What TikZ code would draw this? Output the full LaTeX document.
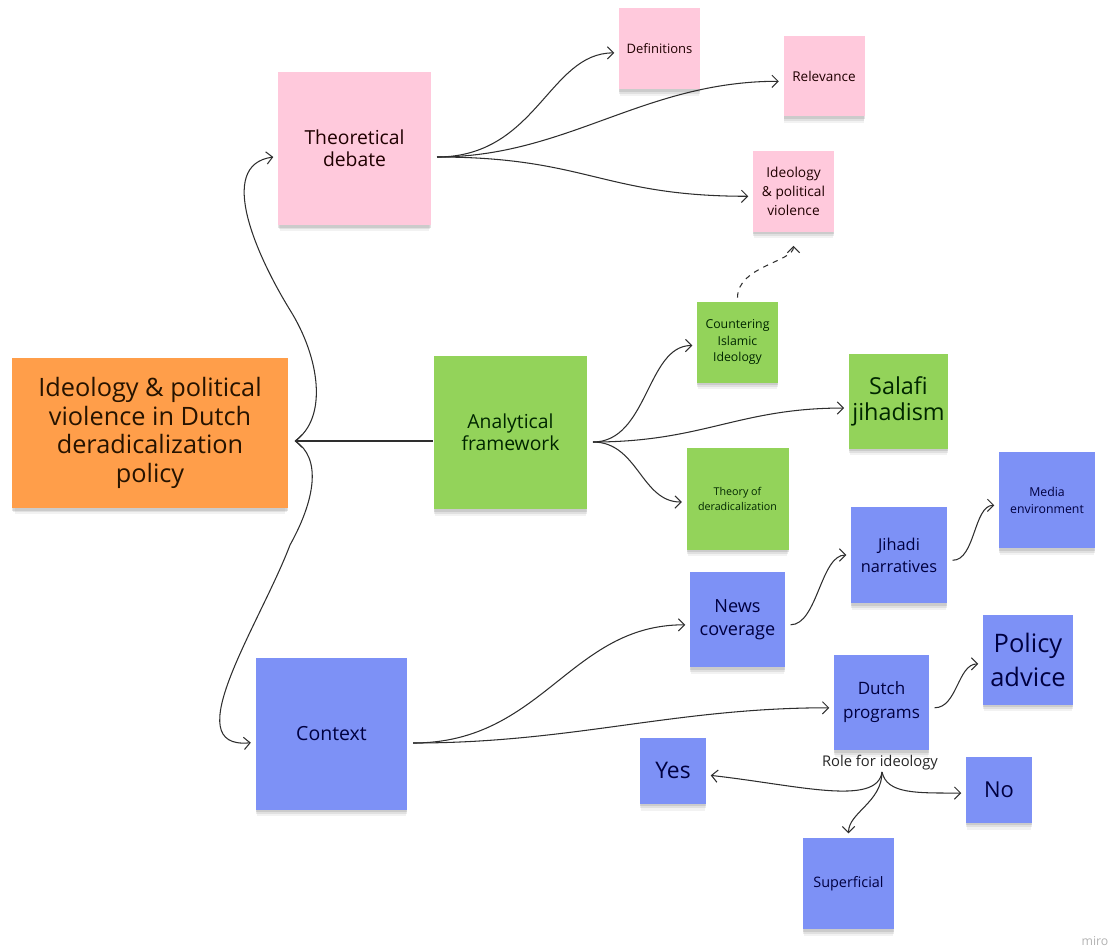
\documentclass[tikz,border=0pt]{standalone}
\usepackage{fontspec}
\setmainfont{Open Sans}
\usetikzlibrary{arrows.meta, shadows}

\definecolor{notepink}{HTML}{FFC9DC}
\definecolor{notegreen}{HTML}{93D35A}
\definecolor{noteblue}{HTML}{7D91F6}
\definecolor{noteorange}{HTML}{FF9E4A}
\definecolor{inkline}{HTML}{2E2E2E}

\begin{document}
\begin{tikzpicture}[
  x=0.02cm, y=-0.02cm,
  note/.style={rectangle, inner sep=2pt, align=center,
    drop shadow={shadow xshift=0pt, shadow yshift=-1.5pt, opacity=0.22},
    drop shadow={shadow xshift=0pt, shadow yshift=-3pt, shadow scale=0.99, opacity=0.16},
    drop shadow={shadow xshift=0pt, shadow yshift=-4.5pt, shadow scale=0.98, opacity=0.10}},
  pinknote/.style={note, fill=notepink, text=black!80!red!60!black},
  greennote/.style={note, fill=notegreen, text=black!75!green!60!black},
  bluenote/.style={note, fill=noteblue, text=blue!25!black},
  orangenote/.style={note, fill=noteorange, text=black!85!orange},
  arr/.style={-{Straight Barb[length=3.5pt, width=7pt]}, line width=0.6pt, inkline, shorten >=2.5pt},
  >=Stealth
]
\useasboundingbox (0,0) rectangle (1115,951);

% Main topic
\node[orangenote, minimum width=5.52cm, minimum height=3cm,
  font=\fontsize{14.4}{16.4}\selectfont] (main) at (150,433)
  {Ideology \& political\\violence in Dutch\\deradicalization\\policy};

% Theoretical debate branch
\node[pinknote, minimum size=3.06cm, font=\fontsize{11}{12.5}\selectfont] (theo) at (354.5,148.5) {Theoretical\\debate};
\node[pinknote, minimum size=1.62cm, font=\fontsize{7.4}{9.6}\selectfont] (defs) at (659.5,48.5) {Definitions};
\node[pinknote, minimum size=1.62cm, font=\fontsize{7.7}{9.6}\selectfont] (relev) at (824,76) {Relevance};
\node[pinknote, minimum size=1.62cm, font=\fontsize{7.8}{10.8}\selectfont] (ipv) at (793.5,191) {Ideology\\\& political\\violence};

% Analytical framework branch
\node[greennote, minimum size=3.08cm, font=\fontsize{11}{12.5}\selectfont] (anal) at (510.5,432.5) {Analytical\\framework};
\node[greennote, minimum size=1.62cm, font=\fontsize{7}{9.6}\selectfont] (counter) at (737.5,342) {Countering\\Islamic\\Ideology};
\node[greennote, minimum size=1.9cm, font=\fontsize{13.3}{14.7}\selectfont] (salafi) at (898.5,401) {Salafi\\jihadism};
\node[greennote, minimum size=2.04cm, font=\fontsize{6.1}{8.5}\selectfont] (theory) at (737.5,498.5) {Theory of\\deradicalization};

% Context branch
\node[bluenote, minimum size=3.04cm, font=\fontsize{11.1}{13}\selectfont] (context) at (331.5,733.5) {Context};
\node[bluenote, minimum size=1.9cm, font=\fontsize{10.3}{13}\selectfont] (news) at (737.5,619.5) {News\\coverage};
\node[bluenote, minimum size=1.92cm, font=\fontsize{9.3}{12.5}\selectfont] (jihadi) at (899,555) {Jihadi\\narratives};
\node[bluenote, minimum size=1.92cm, font=\fontsize{7}{9.6}\selectfont] (media) at (1047,500) {Media\\environment};
\node[bluenote, minimum size=1.9cm, font=\fontsize{9.7}{13.6}\selectfont] (dutch) at (881.5,702.5) {Dutch\\programs};
\node[bluenote, minimum size=1.8cm, font=\fontsize{14.5}{19.3}\selectfont] (policy) at (1028,659.5) {Policy\\advice};
\node[font=\fontsize{8.4}{10}\selectfont, text=black!85] (role) at (880,763) {Role for ideology};
\node[bluenote, minimum size=1.32cm, font=\fontsize{13}{15}\selectfont] (yes) at (673,770.5) {Yes};
\node[bluenote, minimum size=1.32cm, font=\fontsize{12.5}{15}\selectfont] (no) at (999,789.5) {No};
\node[bluenote, minimum size=1.82cm, font=\fontsize{8.2}{10}\selectfont] (superf) at (848.5,883.5) {Superficial};

% watermark
\node[font=\fontsize{7}{8}\selectfont, text=black!30] (miro) at (1095,941) {miro};

% fork points
\coordinate (hub) at (295,441);
\coordinate (tfork) at (437,157);
\coordinate (afork) at (593,442);
\coordinate (cfork) at (413,743);
\coordinate (rfork) at (882,772);

% Main connectors
\draw[arr, shorten >=0pt] (anal.west |- hub) -- (hub);
\draw[arr] (hub) .. controls (328,418) and (320,358) .. (290,310)
  .. controls (258,258) and (215,165) .. ([yshift=-4.5pt]theo.west);
\draw[arr] (hub) .. controls (322,458) and (315,500) .. (290,545)
  .. controls (260,624) and (175,750) .. ([yshift=-5pt]context.west);

% Theoretical debate
\draw[arr] (tfork) .. controls +(100,0) and +(-70,0) .. ([yshift=-2.5pt]defs.west);
\draw[arr] (tfork) .. controls +(130,0) and +(-140,0) .. ([yshift=-3pt]relev.west);
\draw[arr] (tfork) .. controls +(150,0) and +(-150,0) .. ([yshift=-3pt]ipv.west);

% Analytical framework
\draw[arr] (afork) .. controls +(55,0) and +(-50,0) .. ([yshift=-2pt]counter.west);
\draw[arr] (afork) .. controls +(110,0) and +(-110,0) .. ([yshift=-4pt]salafi.west);
\draw[arr] (afork) .. controls +(45,0) and +(-45,0) .. ([yshift=-2pt]theory.west);
\draw[arr, dashed, shorten <=2pt, shorten >=8pt] (counter.north) .. controls +(0,-35) and +(0,30) .. (ipv.south);

% Context
\draw[arr] (cfork) .. controls +(130,0) and +(-120,0) .. ([yshift=-3pt]news.west);
\draw[arr] (cfork) .. controls +(160,0) and +(-160,0) .. ([yshift=-3pt]dutch.west);
\draw[arr, shorten <=3pt] ([yshift=-3pt]news.east) .. controls +(32,0) and +(-30,0) .. (jihadi.west);
\draw[arr, shorten <=3pt] ([yshift=-3pt]jihadi.east) .. controls +(28,0) and +(-25,0) .. ([yshift=-3pt]media.west);
\draw[arr, shorten <=3pt] ([yshift=-3pt]dutch.east) .. controls +(28,0) and +(-25,0) .. ([yshift=-2.5pt]policy.west);

% Role for ideology
\draw[arr] (rfork) .. controls +(-5,35) and +(90,10) .. ([yshift=-2.5pt]yes.east);
\draw[arr] (rfork) .. controls +(5,22) and +(-50,0) .. ([yshift=-2pt]no.west);
\draw[arr] (rfork) .. controls +(0,30) and +(0,-25) .. (superf.north);

\end{tikzpicture}
\end{document}
